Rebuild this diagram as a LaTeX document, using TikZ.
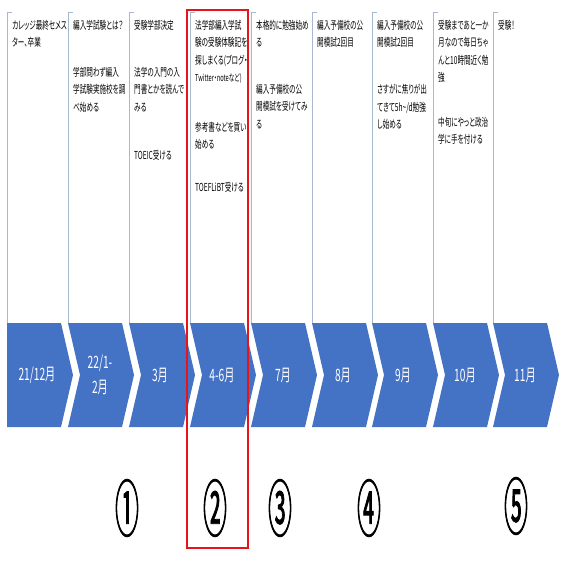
\documentclass[tikz,border=0pt]{standalone}
\usepackage{fontspec}
\newfontfamily\jpfont[FakeStretch=0.6,RawFeature={+palt}]{Noto Sans CJK JP}
\newfontfamily\jpcircfont[FakeStretch=0.38,FakeBold=1.2]{Noto Sans CJK JP}
\definecolor{chevblue}{HTML}{4472C4}
\definecolor{stemgray}{HTML}{A8B8CE}
\definecolor{markred}{HTML}{E8141C}
\tikzstyle{memo}=[anchor=north west,inner sep=0pt,align=left,font=\jpfont\fontsize{11}{17.5}\selectfont]
\tikzstyle{month}=[text=white,inner sep=0pt,align=center,font=\jpfont\fontsize{17}{25}\selectfont]
\tikzstyle{stem}=[draw=stemgray,line width=0.8pt]
\tikzstyle{circnum}=[inner sep=0pt,font=\jpcircfont\fontsize{62}{62}\selectfont]

\begin{document}
\begin{tikzpicture}[x=1pt,y=-1pt]
\useasboundingbox (0,0) rectangle (562,562);
% stems above the chevrons
\foreach \sx in {7,68,129,190,251,312,372,433,493}
  \draw[stem] (\sx+5,12) -- (\sx,12) -- (\sx,323);
% chevrons
\fill[chevblue] (7,323) -- (61,323) -- (73,375) -- (61,427) -- (7,427) -- cycle;
\foreach \cx in {68,129,190,251,312,372,433,493}
  \fill[chevblue] (\cx,323) -- ++(54,0) -- ++(12,52) -- ++(-12,52) -- ++(-54,0) -- ++(12,-52) -- cycle;
% months
\node[month] (m1) at (37,375) {21/12月};
\node[month] (m2) at (100,375) {22/1-\\2月};
\node[month] (m3) at (160,375) {3月};
\node[month] (m4) at (222,375) {4-6月};
\node[month] (m5) at (283,375) {7月};
\node[month] (m6) at (343,375) {8月};
\node[month] (m7) at (403,375) {9月};
\node[month] (m8) at (465,375) {10月};
\node[month] (m9) at (525,375) {11月};
% notes
\node[memo] (t1a) at (12,20) {カレッジ最終セメス\\ター、卒業};
\node[memo] (t2a) at (73,20) {編入学試験とは？};
\node[memo] (t2b) at (73,67) {学部問わず編入\\学試験実施校を調\\べ始める};
\node[memo] (t3a) at (134,20) {受験学部決定};
\node[memo] (t3b) at (134,67) {法学の入門の入\\門書とかを読んで\\みる};
\node[memo] (t3c) at (134,150) {TOEIC受ける};
\node[memo] (t4a) at (195,20) {法学部編入学試\\験の受験体験記を\\探しまくる(ブログ・\\{\fontsize{9.5}{17.5}\selectfont Twitter・noteなど)}};
\node[memo] (t4b) at (195,122) {参考書などを買い\\始める};
\node[memo] (t4c) at (195,182) {TOEFLiBT受ける};
\node[memo] (t5a) at (256,20) {本格的に勉強始め\\る};
\node[memo] (t5b) at (256,84) {編入予備校の公\\開模試を受けてみ\\る};
\node[memo] (t6a) at (317,20) {編入予備校の公\\開模試2回目};
\node[memo] (t7a) at (377,20) {編入予備校の公\\開模試2回目};
\node[memo] (t7b) at (377,84) {さすがに焦りが出\\てきて5h\textasciitilde/d勉強\\し始める};
\node[memo] (t8a) at (438,20) {受験まであと一か\\月なので毎日ちゃ\\んと10時間近く勉\\強};
\node[memo] (t8b) at (438,117) {中旬にやっと政治\\学に手を付ける};
\node[memo] (t9a) at (498,20) {受験！};
% circled numbers
\node[circnum] (n1) at (127,508) {①};
\node[circnum] (n2) at (215,508) {②};
\node[circnum] (n3) at (280,508) {③};
\node[circnum] (n4) at (369,508) {④};
\node[circnum] (n5) at (516,506) {⑤};
% red frame
\draw[markred,line width=2.5pt] (187,10) rectangle (248,548);
\end{tikzpicture}
\end{document}
